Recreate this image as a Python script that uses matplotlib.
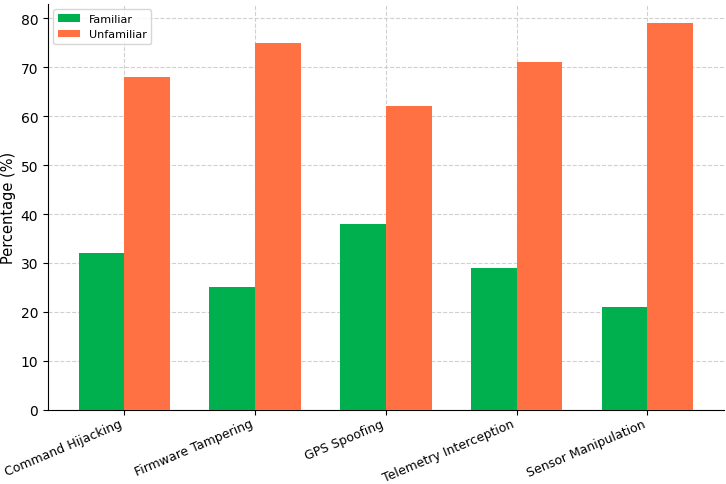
import numpy as np
import matplotlib.pyplot as plt

categories = ["Command Hijacking", "Firmware Tampering", "GPS Spoofing",
              "Telemetry Interception", "Sensor Manipulation"]
familiar = [32, 25, 38, 29, 21]
unfamiliar = [68, 75, 62, 71, 79]

x = np.arange(len(categories))
width = 0.35

fig = plt.figure(figsize=(7.26, 4.85), dpi=100)
ax = fig.add_axes([0.066, 0.153, 0.931, 0.837])

ax.bar(x - width / 2, familiar, width, color="#00b04f", label="Familiar", zorder=3)
ax.bar(x + width / 2, unfamiliar, width, color="#ff7043", label="Unfamiliar", zorder=3)

ax.set_ylabel("Percentage (%)", fontsize=10.5)
ax.yaxis.set_label_coords(-0.047, 0.5)
ax.set_xticks(x)
ax.set_xticklabels(categories, rotation=23, ha="right", fontsize=9)
ax.tick_params(axis="x", pad=1.5)
ax.tick_params(axis="y", labelsize=10)
ax.grid(True, linestyle="--", color="#d0d0d0", linewidth=0.8, zorder=0)
ax.spines["top"].set_visible(False)
ax.spines["right"].set_visible(False)
ax.legend(loc="upper left", fontsize=8)

fig.savefig("out.png", dpi=100)
